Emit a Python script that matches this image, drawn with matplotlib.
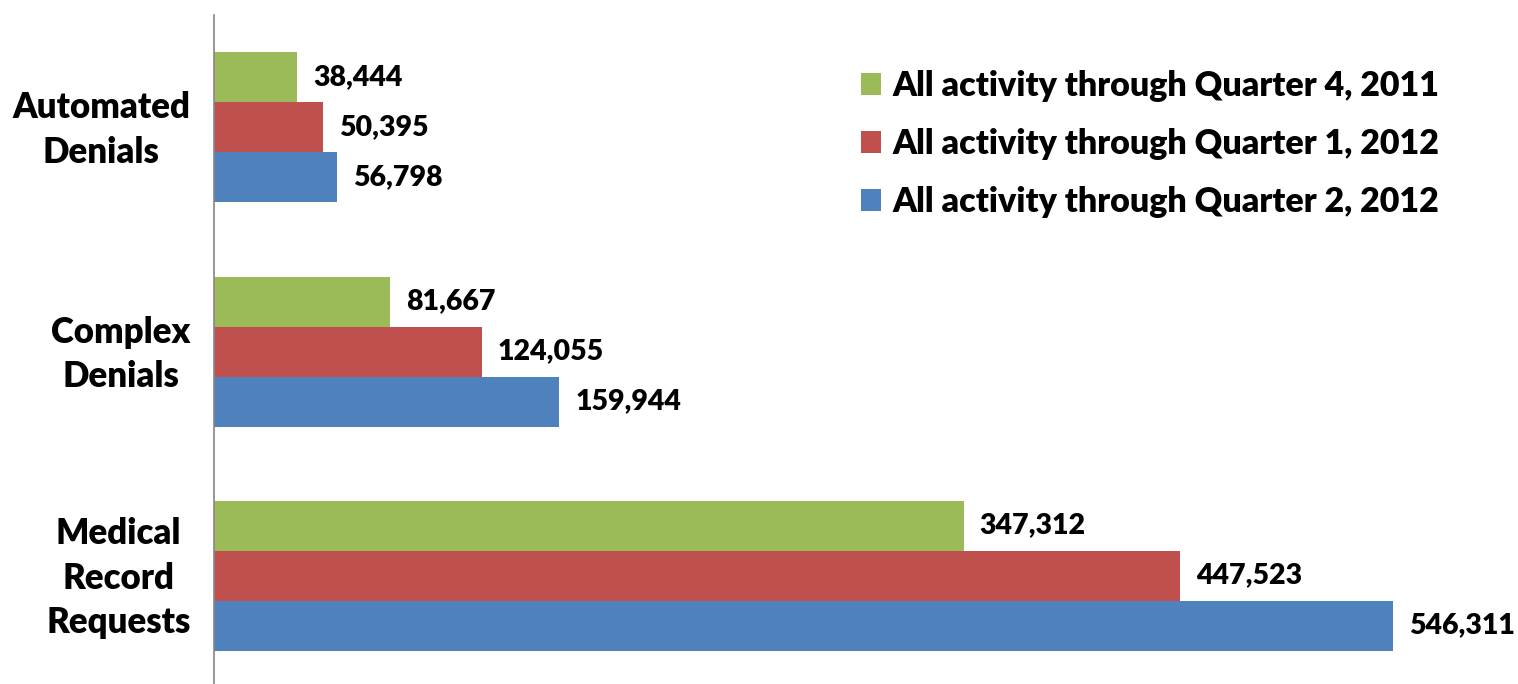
import matplotlib
import matplotlib.pyplot as plt
import matplotlib.transforms as mtransforms
import numpy as np

matplotlib.use("Agg")

categories = ["Automated\nDenials", "Complex\nDenials", "Medical\nRecord\nRequests"]
series_names = [
    "All activity through Quarter 4, 2011",
    "All activity through Quarter 1, 2012",
    "All activity through Quarter 2, 2012",
]
q4_2011 = [38444, 81667, 347312]
q1_2012 = [50395, 124055, 447523]
q2_2012 = [56798, 159944, 546311]

COLORS = ["#9BBB59", "#C0504D", "#4F81BD"]
FONT = "Lato"
WEIGHT = "heavy"


def main():
    fig = plt.figure(figsize=(15.18, 6.84), dpi=100)
    W, H = 1518, 684
    # axes spans from the vertical axis line (x=214px) to the right edge
    ax = fig.add_axes([214 / W, 0, 1 - 214 / W, 1 - 15 / H])

    y = np.arange(len(categories))
    h = 0.2232
    series = [q4_2011, q1_2012, q2_2012]
    for k, (vals, name, col) in enumerate(zip(series, series_names, COLORS)):
        pos = y + (k - 1) * h
        bars = ax.barh(pos, vals, height=h, color=col, label=name, edgecolor="none")
        for b, v in zip(bars, vals):
            ax.annotate(f"{v:,}", (b.get_width(), b.get_y() + b.get_height() / 2),
                        xytext=(16, 0), textcoords="offset pixels",
                        ha="left", va="center", fontsize=20.5, fontweight=WEIGHT,
                        family=FONT, color="black")

    xmax = max(q2_2012)
    ax.set_xlim(0, xmax * (W - 214) / 1179)
    ax.set_ylim(2.484, -0.502)

    ax.set_yticks(y)
    ax.set_yticklabels(categories, fontsize=25, fontweight=WEIGHT, family=FONT,
                       multialignment="center", linespacing=1.42)
    ax.tick_params(axis="y", length=0, pad=17)
    # nudge category labels up a few pixels to sit centred on the groups
    shift = mtransforms.ScaledTranslation(0, 6 / 100, fig.dpi_scale_trans)
    for lab in ax.get_yticklabels():
        lab.set_transform(lab.get_transform() + shift)
    ax.set_xticks([])
    for s in ["top", "right", "bottom"]:
        ax.spines[s].set_visible(False)
    ax.spines["left"].set_color("#868686")
    ax.spines["left"].set_linewidth(1.2)

    ax.legend(loc="upper left", bbox_to_anchor=(861 / W, 1 - 70 / H), bbox_transform=fig.transFigure,
              frameon=False, handlelength=0.6, handleheight=0.6, handletextpad=0.32,
              labelspacing=0.76, borderaxespad=0, borderpad=0,
              prop={"family": FONT, "weight": WEIGHT, "size": 24.5})

    fig.savefig("out.png", dpi=100)
    plt.close(fig)


if __name__ == "__main__":
    main()
